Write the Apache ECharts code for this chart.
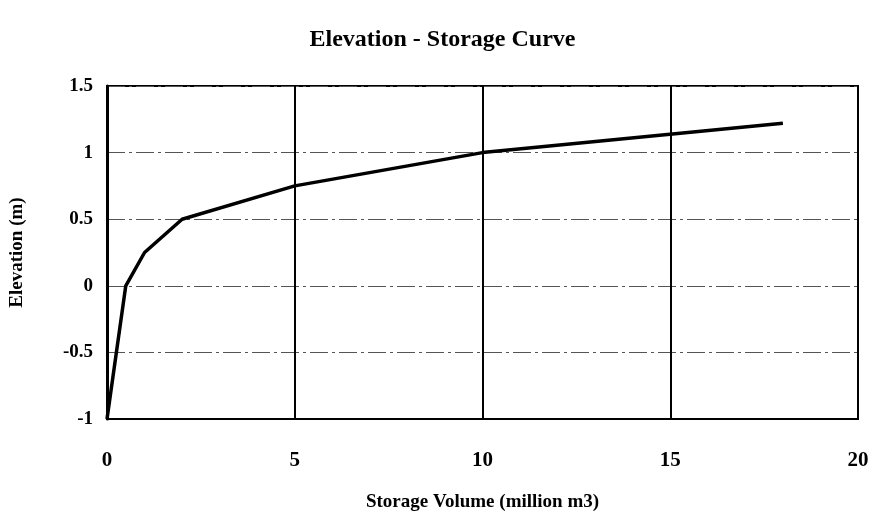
<!DOCTYPE html>
<html>
<head>
<meta charset="utf-8">
<script src="https://cdn.jsdelivr.net/npm/echarts@6/dist/echarts.min.js"></script>
<style>
html, body { margin: 0; padding: 0; background: #fff; }
#chart { width: 885px; height: 517px; }
</style>
</head>
<body>
<div id="chart"></div>
<script>
// storage volume (million m3) vs elevation (m)
var storage = [0, 0.5, 1, 2, 5, 10, 18];
var elevation = [-1, 0, 0.25, 0.5, 0.75, 1, 1.22];
var xTicks = [0, 5, 10, 15, 20];
var yTicks = [-1, -0.5, 0, 0.5, 1, 1.5];

var points = [];
for (var i = 0; i < storage.length; i++) {
    points.push([storage[i], elevation[i]]);
}

var serif = '"Liberation Serif", "DejaVu Serif", serif';
var myChart = echarts.init(document.getElementById('chart'));

option = {
    backgroundColor: '#fff',
    animation: false,
    title: {
        text: 'Elevation - Storage Curve',
        left: 'center',
        top: 23,
        textStyle: { fontFamily: serif, fontSize: 24, fontWeight: 'bold', color: '#000' }
    },
    grid: {
        left: 107,
        right: 27,
        top: 86,
        bottom: 95,
        show: true,
        borderColor: '#000',
        borderWidth: 2
    },
    xAxis: {
        type: 'value',
        min: xTicks[0],
        max: xTicks[xTicks.length - 1],
        interval: 5,
        name: 'Storage Volume (million m3)',
        nameLocation: 'middle',
        nameGap: 74,
        nameTextStyle: { fontFamily: serif, fontSize: 19, fontWeight: 'bold', color: '#000' },
        axisLine: { show: true, onZero: false, lineStyle: { color: '#000', width: 2 } },
        axisTick: { show: false },
        axisLabel: { margin: 31, fontFamily: serif, fontSize: 21, fontWeight: 'bold', color: '#000' },
        splitLine: { show: true, lineStyle: { color: '#000', width: 2 } }
    },
    yAxis: {
        type: 'value',
        min: yTicks[0],
        max: yTicks[yTicks.length - 1],
        interval: 0.5,
        name: 'Elevation (m)',
        nameLocation: 'middle',
        nameGap: 80,
        nameTextStyle: { fontFamily: serif, fontSize: 19, fontWeight: 'bold', color: '#000' },
        axisLine: { show: true, onZero: false, lineStyle: { color: '#000', width: 3 } },
        axisTick: { show: false },
        axisLabel: { margin: 14, fontFamily: serif, fontSize: 19, fontWeight: 'bold', color: '#000' },
        splitLine: { show: true, lineStyle: { color: '#555', width: 1, type: [18, 4, 3, 4] } }
    },
    series: [{
        type: 'line',
        data: points,
        showSymbol: false,
        lineStyle: { color: '#000', width: 3.5 },
        z: 5
    }]
};
myChart.setOption(option);
</script>
</body>
</html>
